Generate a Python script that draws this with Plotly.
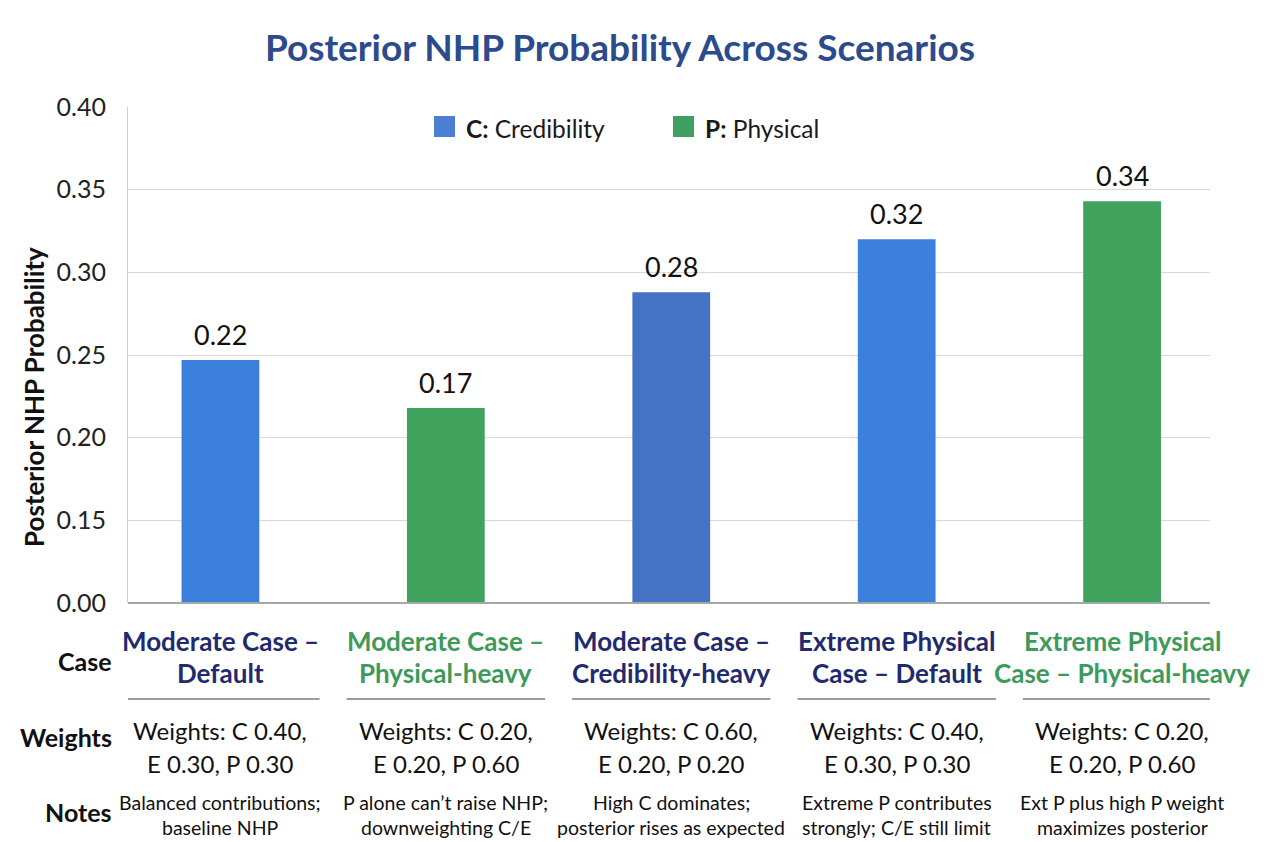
import plotly.graph_objects as go

# ---------------- data ----------------
case_line1 = ["Moderate Case –", "Moderate Case –", "Moderate Case –",
              "Extreme Physical", "Extreme Physical"]
case_line2 = ["Default", "Physical-heavy", "Credibility-heavy",
              "Case – Default", "Case – Physical-heavy"]
case_keys = ["MC-D", "MC-P", "MC-C", "EP-D", "EP-P"]
bar_heights = [0.247, 0.218, 0.288, 0.320, 0.343]   # bar tops as drawn on the axis
bar_labels = ["0.22", "0.17", "0.28", "0.32", "0.34"]
bar_group = ["C", "P", "C", "C", "P"]
bar_colors = ["#3B7FDC", "#3FA35E", "#4573C4", "#3B80DC", "#3FA35E"]
weights_l1 = ["Weights: C 0.40,", "Weights: C 0.20,", "Weights: C 0.60,", "Weights: C 0.40,", "Weights: C 0.20,"]
weights_l2 = ["E 0.30, P 0.30", "E 0.20, P 0.60", "E 0.20, P 0.20", "E 0.30, P 0.30", "E 0.20, P 0.60"]
notes_l1 = ["Balanced contributions;", "P alone can’t raise NHP;", "High C dominates;",
            "Extreme P contributes", "Ext P plus high P weight"]
notes_l2 = ["baseline NHP", "downweighting C/E", "posterior rises as expected",
            "strongly; C/E still limit", "maximizes posterior"]
tick_vals = [0.10, 0.15, 0.20, 0.25, 0.30, 0.35, 0.40]
tick_text = ["0.00", "0.15", "0.20", "0.25", "0.30", "0.35", "0.40"]
legend_names = ["<b>C:</b> Credibility", "<b>P:</b> Physical"]
legend_colors = ["#4A7FD2", "#3E9F5E"]
case_text_colors = {"C": "#1F2B6E", "P": "#3D9A5B"}

W, H = 1264, 842
PT, PB = 107, 603  # plot area top/bottom in pixels
FONT = "Lato"


def py(p):
    """pixel y -> paper y"""
    return (PB - p) / (PB - PT)


def px(p):
    return (p - 128) / (1210 - 128)


fig = go.Figure()
fig.add_trace(go.Bar(
    x=case_keys, y=bar_heights, marker=dict(color=bar_colors, line=dict(width=0)),
    width=0.345, showlegend=False, hoverinfo="skip"))

annotations = []
shapes = []
# value labels
for k, h, lab in zip(case_keys, bar_heights, bar_labels):
    annotations.append(dict(x=k, y=h, xref="x", yref="y", text=lab, showarrow=False,
                            yanchor="bottom", yshift=7,
                            font=dict(family=FONT, size=27, color="#111111")))

# table below
for i, k in enumerate(case_keys):
    col = case_text_colors[bar_group[i]]
    for txt, yp in [(case_line1[i], 641), (case_line2[i], 673)]:
        annotations.append(dict(x=k, y=py(yp), xref="x", yref="paper", text="<b>" + txt + "</b>",
                                showarrow=False, yanchor="middle",
                                font=dict(family=FONT, size=26, color=col)))
    shapes.append(dict(type="line", xref="x", yref="paper", x0=i - 0.44, x1=i + 0.44,
                       y0=py(699), y1=py(699), line=dict(color="#9C9C9C", width=2)))
    for txt, yp in [(weights_l1[i], 730), (weights_l2[i], 763)]:
        annotations.append(dict(x=k, y=py(yp), xref="x", yref="paper", text=txt,
                                showarrow=False, yanchor="middle",
                                font=dict(family=FONT, size=24, color="#111111")))
    for txt, yp in [(notes_l1[i], 802), (notes_l2[i], 827)]:
        annotations.append(dict(x=k, y=py(yp), xref="x", yref="paper", text=txt,
                                showarrow=False, yanchor="middle",
                                font=dict(family=FONT, size=19.5, color="#111111")))

for lab, ypix in [("Case", 661), ("Weights", 737), ("Notes", 812)]:
    annotations.append(dict(x=px(114), y=py(ypix), xref="paper", yref="paper",
                            text="<b>" + lab + "</b>", showarrow=False,
                            xanchor="right", yanchor="middle",
                            font=dict(family=FONT, size=25, color="#111111")))

# y axis title
annotations.append(dict(x=px(34), y=py(397), xref="paper", yref="paper",
                        text="<b>Posterior NHP Probability</b>", textangle=-90,
                        showarrow=False, xanchor="center", yanchor="middle",
                        font=dict(family=FONT, size=26, color="#111111")))

# legend (custom)
for name, colr, sx in zip(legend_names, legend_colors, [434, 673]):
    shapes.append(dict(type="rect", xref="paper", yref="paper",
                       x0=px(sx), x1=px(sx + 21), y0=py(137), y1=py(116),
                       fillcolor=colr, line=dict(width=0)))
    annotations.append(dict(x=px(sx + 30), y=py(128), xref="paper", yref="paper",
                            text=name, showarrow=False, xanchor="left", yanchor="middle",
                            font=dict(family=FONT, size=24.5, color="#1A1A1A")))

fig.update_layout(
    width=W, height=H,
    margin=dict(l=128, r=W - 1210, t=PT, b=H - PB),
    paper_bgcolor="white", plot_bgcolor="white",
    title=dict(text="<b>Posterior NHP Probability Across Scenarios</b>",
               x=620 / W, xanchor="center", y=1 - 48 / H, yanchor="middle",
               font=dict(family=FONT, size=37, color="#2C4A8E")),
    xaxis=dict(type="category", range=[-0.41, 4.39], showticklabels=False,
               showgrid=False, showline=False, ticks="", zeroline=False,
               fixedrange=True),
    yaxis=dict(range=[0.10, 0.40], tickvals=tick_vals, ticktext=tick_text,
               showgrid=True, gridcolor="#D9D9D9", gridwidth=1,
               showline=True, linecolor="#D0D0D0", linewidth=1,
               zeroline=False, ticks="", ticklabelstandoff=16,
               tickfont=dict(family=FONT, size=25, color="#222222")),
    annotations=annotations,
    shapes=shapes + [dict(type="line", xref="paper", yref="paper", x0=0, x1=1, y0=0, y1=0,
                          line=dict(color="#A6A6A6", width=2))],
    showlegend=False,
)

fig.write_html("out.html")
